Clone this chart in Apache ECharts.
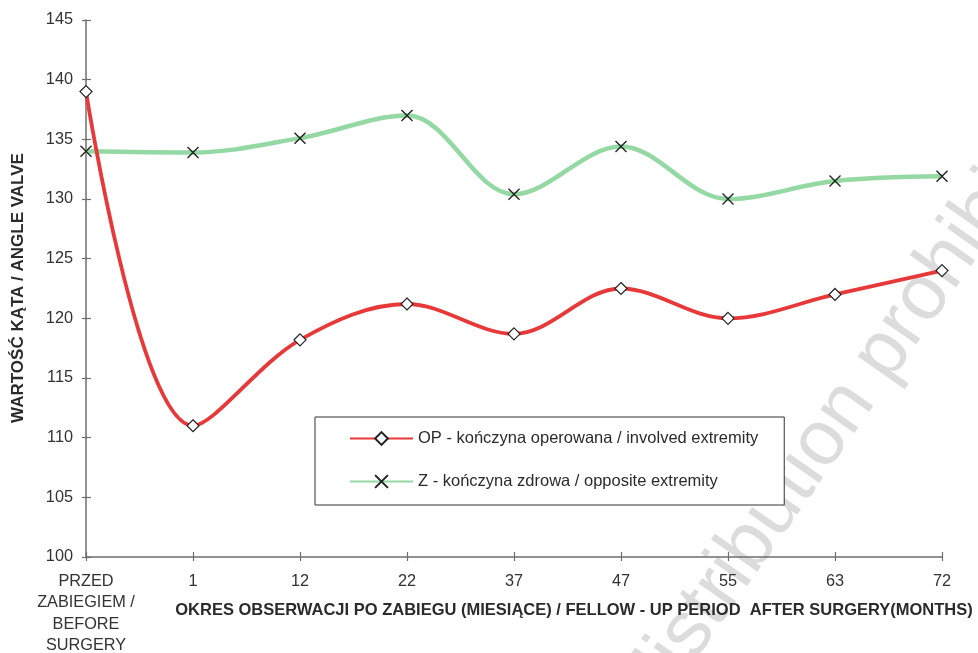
<!DOCTYPE html>
<html>
<head>
<meta charset="utf-8">
<script src="https://cdn.jsdelivr.net/npm/echarts@6/dist/echarts.min.js"></script>
<style>
  html, body { margin: 0; padding: 0; background: #fff; }
  #chart { width: 978px; height: 653px; }
</style>
</head>
<body>
<div id="chart"></div>
<script>
// categories (months after surgery)
const categories = ["PRZED\nZABIEGIEM /\nBEFORE\nSURGERY", "1", "12", "22", "37", "47", "55", "63", "72"];
// OP - operated limb
const opValues = [139, 111, 118.2, 121.2, 118.7, 122.5, 120, 122, 124];
// Z - healthy limb
const zValues = [134, 133.9, 135.1, 137, 130.4, 134.4, 130, 131.5, 131.9];
const opName = "OP - kończyna operowana / involved extremity";
const zName = "Z - kończyna zdrowa / opposite extremity";
const xTitle = "OKRES OBSERWACJI PO ZABIEGU (MIESIĄCE) / FELLOW - UP PERIOD  AFTER SURGERY(MONTHS)";
const yTitle = "WARTOŚĆ KĄTA / ANGLE VALVE";

const font = "Arial, 'Liberation Sans', sans-serif";
const axisColor = "#6e6e6e";

const chart = echarts.init(document.getElementById("chart"));

chart.setOption({
  backgroundColor: "#fff",
  animation: false,
  textStyle: { fontFamily: font },
  grid: { left: 86, right: 36, top: 20, bottom: 96, containLabel: false, outerBoundsMode: "none" },
  graphic: [
    {
      // watermark
      type: "text",
      x: 674, y: 721,
      rotation: 0.96,
      z: -10,
      style: {
        text: "distribution prohibited",
        font: "78px " + font,
        fill: "#dcdcdc",
        textAlign: "left",
        textVerticalAlign: "bottom"
      }
    },
    {
      type: "text",
      x: 574, y: 610,
      style: {
        text: xTitle,
        font: "bold 16.5px " + font,
        fill: "#2b2b2b",
        textAlign: "center",
        textVerticalAlign: "middle"
      }
    },
    {
      type: "text",
      x: 18, y: 288,
      rotation: Math.PI / 2,
      style: {
        text: yTitle,
        font: "bold 17px " + font,
        fill: "#2b2b2b",
        textAlign: "center",
        textVerticalAlign: "middle"
      }
    }
  ],
  legend: {
    orient: "vertical",
    left: 315,
    top: 417,
    padding: [13, 26, 15, 34],
    itemGap: 26,
    itemWidth: 63,
    itemHeight: 16,
    borderColor: "#333",
    borderWidth: 1,
    borderRadius: 0,
    backgroundColor: "#fff",
    textStyle: { fontSize: 16.5, color: "#2b2b2b", fontFamily: font },
    data: [opName, zName]
  },
  xAxis: [
    {
      type: "category",
      data: categories,
      boundaryGap: false,
      axisLine: { lineStyle: { color: axisColor, width: 1.5 } },
      axisTick: { length: 4, lineStyle: { color: axisColor, width: 1.2 } },
      axisLabel: { fontSize: 16.3, color: "#333", margin: 14, lineHeight: 21.3, interval: 0 },
      splitLine: { show: false }
    },
    {
      type: "category",
      data: categories,
      boundaryGap: false,
      position: "bottom",
      axisLine: { show: false },
      axisTick: { inside: true, length: 5, lineStyle: { color: axisColor, width: 1.2 } },
      axisLabel: { show: false },
      splitLine: { show: false }
    }
  ],
  yAxis: [
    {
      type: "value",
      min: 100,
      max: 145,
      interval: 5,
      axisLine: { show: true, lineStyle: { color: axisColor, width: 1.5 } },
      axisTick: { show: true, length: 4, lineStyle: { color: axisColor, width: 1.2 } },
      axisLabel: { fontSize: 16.3, color: "#333", margin: 13 },
      splitLine: { show: false }
    },
    {
      type: "value",
      min: 100,
      max: 145,
      interval: 5,
      position: "left",
      axisLine: { show: false },
      axisTick: { show: true, inside: true, length: 5, lineStyle: { color: axisColor, width: 1.2 } },
      axisLabel: { show: false },
      splitLine: { show: false }
    }
  ],
  series: [
    {
      name: zName,
      type: "line",
      data: zValues,
      smooth: 0.35,
      symbol: "path://M0,0L10,10M10,0L0,10",
      symbolSize: 11,
      lineStyle: { color: "#94d8a4", width: 4.5 },
      itemStyle: { color: "transparent", borderColor: "#222", borderWidth: 1.4 },
      z: 2
    },
    {
      name: opName,
      type: "line",
      data: opValues,
      smooth: 0.35,
      symbol: "diamond",
      symbolSize: 12,
      lineStyle: { color: "#e8393a", width: 3.8 },
      itemStyle: { color: "#fff", borderColor: "#222", borderWidth: 1.2 },
      z: 3
    }
  ]
});
</script>
</body>
</html>
